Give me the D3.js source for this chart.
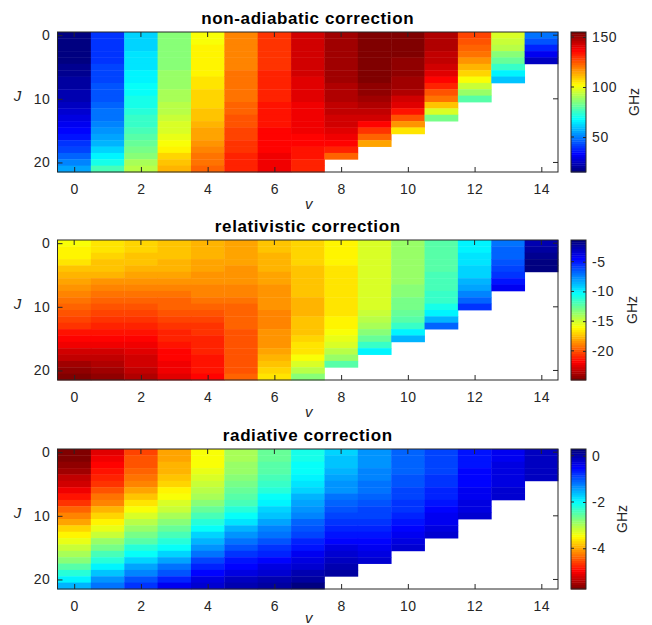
<!DOCTYPE html>
<html>
<head>
<meta charset="utf-8">
<script src="https://cdn.jsdelivr.net/npm/d3@7"></script>
<style>
  body { margin: 0; background: #fff; }
  text { font-family: "Liberation Sans", Arial, Helvetica, sans-serif; fill: #262626; }
</style>
</head>
<body>
<svg id="chart" width="652" height="625"></svg>
<script>
// vibrational levels v = 0..14, each column holds values for J = 0..Jmax(v)
const vLevels = d3.range(0, 15);
const xTicks = [0, 2, 4, 6, 8, 10, 12, 14];
const yTicks = [0, 10, 20];

// non-adiabatic correction, GHz
const nonAdiabatic = [
  [15, 15.3, 15.8, 16.4, 17, 17.7, 18.5, 19.5, 20.5, 21.7, 23, 24.5, 26.2, 28.2, 30.5, 33, 36, 39.5, 43, 47, 51.5, 56],
  [40, 40, 40.2, 40.5, 41, 41.5, 42, 42.8, 43.6, 44.5, 45.5, 46.7, 48, 49.5, 51, 52.5, 54.5, 57.5, 61.5, 66, 71, 78],
  [62, 62.5, 63, 63.5, 64, 65, 66, 67, 68, 69, 70, 71.5, 73, 74.5, 76, 78, 80, 82, 84, 87, 90, 93],
  [85, 85, 85.5, 86, 86.5, 87, 87.5, 88, 89, 90, 91, 92, 93.5, 95, 96.5, 98, 100, 102, 104.5, 107, 110, 113],
  [102, 102, 102.5, 103, 103.5, 104, 104.5, 105, 106, 107, 108, 109, 110, 111, 112, 113.5, 115, 116.5, 118, 120, 122, 124],
  [118, 118, 118, 118.5, 119, 119.5, 120, 120.5, 121, 121.5, 122, 123, 124, 125, 126, 127, 128, 129, 130, 131, 132, 133],
  [129, 129, 129.5, 130, 130, 130.5, 131, 131.5, 132, 132.5, 133, 133.5, 134, 134.5, 135, 135.5, 136, 136.5, 137, 137.5, 138, 139],
  [143, 143, 143, 142.5, 142.5, 142, 142, 141.5, 141, 140.5, 140, 139.5, 139, 138.5, 138, 137.5, 137, 136, 135, 134, 132.5, 131],
  [150, 150, 150, 149.5, 149.5, 149, 149, 148.5, 148, 147.5, 147, 146, 145, 144, 143, 141.5, 139, 136, 131, 124],
  [155, 155, 155, 154.5, 154.5, 154, 153.5, 153, 152, 151, 150, 148, 146, 142, 137, 130, 124, 115],
  [154, 154, 153.5, 153, 152.5, 152, 151, 150, 148.5, 146.5, 144, 140, 134, 126, 117, 105],
  [148, 147.5, 147, 146, 145, 143, 140, 137, 132, 126, 120, 111, 97, 83],
  [127, 126, 124, 121, 117, 113, 108, 102, 95, 89, 79],
  [97, 95.5, 92, 87, 82, 75, 67, 60],
  [48, 45, 38, 31, 25]
];

// relativistic correction, GHz
const relativistic = [
  [-16, -16.1, -16.4, -16.8, -17.2, -17.6, -18, -18.4, -18.8, -19.2, -19.6, -20, -20.4, -20.8, -21.3, -21.8, -22.3, -22.8, -23.3, -23.8, -24.3, -24.9],
  [-16.6, -16.7, -16.9, -17.2, -17.5, -17.9, -18.3, -18.7, -19.1, -19.5, -19.9, -20.3, -20.7, -21.1, -21.5, -21.9, -22.3, -22.7, -23.1, -23.5, -23.9, -24.3],
  [-16.9, -17, -17.2, -17.4, -17.7, -18, -18.4, -18.8, -19.2, -19.6, -20, -20.4, -20.8, -21.2, -21.5, -21.8, -22.1, -22.4, -22.7, -23, -23.3, -23.6],
  [-17.3, -17.4, -17.5, -17.7, -17.9, -18.2, -18.5, -18.8, -19.1, -19.4, -19.7, -20, -20.3, -20.6, -20.9, -21.2, -21.5, -21.7, -21.9, -22.1, -22.3, -22.5],
  [-17.8, -17.8, -17.9, -18, -18.2, -18.4, -18.6, -18.8, -19, -19.3, -19.6, -19.9, -20.2, -20.5, -20.7, -20.9, -21.1, -21.2, -21.3, -21.4, -21.5, -21.6],
  [-18, -18, -18.1, -18.2, -18.3, -18.4, -18.6, -18.8, -19, -19.2, -19.4, -19.5, -19.6, -19.7, -19.8, -19.8, -19.9, -19.9, -19.9, -19.9, -19.8, -19.7],
  [-17.5, -17.5, -17.6, -17.7, -17.8, -18, -18.1, -18.3, -18.4, -18.5, -18.6, -18.7, -18.7, -18.7, -18.6, -18.5, -18.3, -18.1, -17.8, -17.5, -17.1, -16.6],
  [-16.9, -16.9, -17, -17.1, -17.2, -17.3, -17.4, -17.5, -17.5, -17.6, -17.6, -17.6, -17.5, -17.4, -17.2, -17, -16.8, -16.5, -16, -15.2, -14.3, -13.2],
  [-16.3, -16.3, -16.4, -16.4, -16.5, -16.5, -16.6, -16.6, -16.6, -16.6, -16.6, -16.5, -16.4, -16.2, -16, -15.6, -15.1, -14.4, -13.5, -12.2],
  [-15.3, -15.3, -15.3, -15.3, -15.3, -15.3, -15.3, -15.3, -15.2, -15.1, -15, -14.8, -14.5, -14, -13.4, -12.6, -11.5, -10],
  [-13.7, -13.7, -13.7, -13.7, -13.6, -13.6, -13.5, -13.4, -13.3, -13.1, -12.9, -12.6, -12.1, -11.3, -10.1, -8.7],
  [-12.2, -12.2, -12.2, -12.1, -12.1, -12, -11.9, -11.8, -11.6, -11.3, -10.8, -10, -8.6, -6.6],
  [-10, -9.9, -9.8, -9.6, -9.4, -9.1, -8.7, -8.2, -7.4, -6.6, -5.4],
  [-6.9, -6.8, -6.6, -6.3, -5.9, -5.4, -4.7, -4],
  [-2.5, -2.3, -2, -1.7, -1.35]
];

// radiative correction, GHz
const radiative = [
  [-5.76, -5.7, -5.6, -5.5, -5.38, -5.24, -5.06, -4.86, -4.64, -4.42, -4.2, -3.98, -3.76, -3.55, -3.34, -3.14, -2.94, -2.74, -2.52, -2.2, -1.9, -1.55],
  [-5.15, -5.08, -5, -4.9, -4.78, -4.64, -4.5, -4.34, -4.16, -3.96, -3.76, -3.55, -3.34, -3.12, -2.9, -2.67, -2.43, -2.18, -1.92, -1.66, -1.4, -1.15],
  [-4.55, -4.52, -4.46, -4.38, -4.28, -4.16, -4.02, -3.86, -3.68, -3.48, -3.3, -3.1, -2.92, -2.72, -2.5, -2.24, -1.98, -1.73, -1.48, -1.24, -1, -0.77],
  [-4.02, -3.99, -3.95, -3.88, -3.8, -3.7, -3.58, -3.44, -3.28, -3.12, -2.95, -2.78, -2.6, -2.42, -2.22, -1.98, -1.72, -1.46, -1.2, -0.94, -0.66, -0.39],
  [-3.49, -3.47, -3.43, -3.38, -3.3, -3.2, -3.08, -2.95, -2.8, -2.62, -2.42, -2.2, -1.98, -1.76, -1.56, -1.36, -1.15, -0.93, -0.7, -0.5, -0.34, -0.24],
  [-2.96, -2.94, -2.9, -2.85, -2.79, -2.72, -2.63, -2.52, -2.4, -2.2, -2, -1.8, -1.6, -1.41, -1.22, -1.03, -0.84, -0.65, -0.47, -0.32, -0.18, -0.08],
  [-2.58, -2.56, -2.52, -2.46, -2.38, -2.28, -2.17, -2.04, -1.9, -1.76, -1.62, -1.46, -1.3, -1.14, -0.98, -0.82, -0.66, -0.5, -0.34, -0.19, -0.05, 0.1],
  [-2.13, -2.1, -2.05, -1.98, -1.9, -1.8, -1.7, -1.6, -1.48, -1.36, -1.24, -1.11, -0.98, -0.85, -0.72, -0.59, -0.46, -0.33, -0.2, -0.06, 0.1, 0.29],
  [-1.7, -1.67, -1.62, -1.56, -1.49, -1.41, -1.32, -1.22, -1.12, -1.02, -0.92, -0.81, -0.7, -0.59, -0.48, -0.37, -0.26, -0.15, -0.03, 0.09],
  [-1.37, -1.35, -1.32, -1.28, -1.24, -1.19, -1.13, -1.07, -1, -0.93, -0.86, -0.78, -0.7, -0.62, -0.55, -0.44, -0.32, -0.2],
  [-1.12, -1.1, -1.08, -1.05, -1.01, -0.97, -0.92, -0.87, -0.81, -0.75, -0.69, -0.62, -0.54, -0.45, -0.35, -0.24],
  [-0.92, -0.9, -0.88, -0.85, -0.81, -0.77, -0.72, -0.66, -0.6, -0.53, -0.46, -0.38, -0.3, -0.21],
  [-0.62, -0.61, -0.59, -0.56, -0.52, -0.48, -0.44, -0.39, -0.34, -0.29, -0.24],
  [-0.4, -0.39, -0.37, -0.35, -0.32, -0.29, -0.26, -0.23],
  [-0.14, -0.13, -0.12, -0.11, -0.1]
];

const cbTicksNA = [50, 100, 150];
const cbTicksRel = [-20, -15, -10, -5];
const cbTicksRad = [-4, -2, 0];

// matlab-ish jet colormap, 64 levels
const jet = d3.scaleLinear()
  .domain([0, 0.125, 0.375, 0.625, 0.875, 1])
  .range(["#000080", "#0000ff", "#00ffff", "#ffff00", "#ff0000", "#800000"]);
const nLevels = 64;
function jetLevel(t) {
  const i = Math.max(0, Math.min(nLevels - 1, Math.floor(t * nLevels)));
  return jet(i / (nLevels - 1));
}

const panels = [
  { title: "non-adiabatic correction", data: nonAdiabatic, cbTicks: cbTicksNA, reverse: false, top: 32, labelX: 634 },
  { title: "relativistic correction", data: relativistic, cbTicks: cbTicksRel, reverse: true, top: 240, labelX: 632 },
  { title: "radiative correction", data: radiative, cbTicks: cbTicksRad, reverse: true, top: 449, labelX: 622 }
];

const svg = d3.select("#chart");
const axLeft = 57.5, axRight = 558, axH = 140;
const cbLeft = 571, cbW = 15;
const axisColor = "#262626";
const tickFont = 14, tickSpacing = 0.6;

panels.forEach(p => {
  const g = svg.append("g");
  const x = d3.scaleLinear().domain([-0.5, 14.5]).range([axLeft, axRight]);
  const y = d3.scaleLinear().domain([-0.5, 21.5]).range([p.top, p.top + axH]);

  const ext = d3.extent(p.data.flat());
  const norm = d3.scaleLinear().domain(ext).range(p.reverse ? [1, 0] : [0, 1]);

  // cells
  const cells = [];
  p.data.forEach((col, vi) => col.forEach((val, j) => cells.push({ v: vLevels[vi], j, val })));

  g.selectAll("rect.cell")
    .data(cells)
    .enter()
    .append("rect")
    .attr("class", "cell")
    .attr("x", d => x(d.v - 0.5))
    .attr("y", d => y(d.j - 0.5))
    .attr("width", d => x(d.v + 0.5) - x(d.v - 0.5) + 0.4)
    .attr("height", d => y(d.j + 0.5) - y(d.j - 0.5) + 0.4)
    .attr("fill", d => jetLevel(norm(d.val)));

  // bottom axis, ticks pointing in
  const xAxis = g.append("g")
    .attr("transform", `translate(0,${p.top + axH})`)
    .call(d3.axisBottom(x).tickValues(xTicks).tickSizeInner(-5).tickSizeOuter(0).tickPadding(12));
  xAxis.select(".domain").remove();
  xAxis.selectAll("line").attr("stroke", axisColor);
  xAxis.selectAll("text").attr("font-size", tickFont).attr("letter-spacing", tickSpacing).style("fill", axisColor);

  const yAxis = g.append("g")
    .attr("transform", `translate(${axLeft},0)`)
    .call(d3.axisLeft(y).tickValues(yTicks).tickSizeInner(-5).tickSizeOuter(0).tickPadding(7));
  yAxis.select(".domain").remove();
  yAxis.selectAll("line").attr("stroke", axisColor);
  yAxis.selectAll("text").attr("font-size", tickFont).attr("letter-spacing", tickSpacing).style("fill", axisColor);

  // mirrored ticks on top and right
  g.selectAll("line.topTick").data(xTicks).enter().append("line")
    .attr("x1", d => x(d)).attr("x2", d => x(d))
    .attr("y1", p.top).attr("y2", p.top + 5)
    .attr("stroke", axisColor);
  g.selectAll("line.rightTick").data(yTicks).enter().append("line")
    .attr("x1", axRight).attr("x2", axRight - 5)
    .attr("y1", d => y(d)).attr("y2", d => y(d))
    .attr("stroke", axisColor);

  g.append("rect")
    .attr("x", axLeft).attr("y", p.top)
    .attr("width", axRight - axLeft).attr("height", axH)
    .attr("fill", "none").attr("stroke", axisColor).attr("stroke-width", 1);

  // title and axis labels
  g.append("text")
    .attr("x", (axLeft + axRight) / 2).attr("y", p.top - 8)
    .attr("text-anchor", "middle")
    .attr("font-size", 17).attr("font-weight", "bold")
    .attr("letter-spacing", 0.6)
    .style("fill", "#000")
    .text(p.title);

  g.append("text")
    .attr("x", 17.5).attr("y", p.top + 69)
    .attr("text-anchor", "middle")
    .attr("font-size", 15).attr("font-style", "italic")
    .text("J");

  g.append("text")
    .attr("x", (axLeft + axRight) / 2 + 1).attr("y", Math.min(p.top + axH + 37, 623))
    .attr("text-anchor", "middle")
    .attr("font-size", 15).attr("font-style", "italic")
    .text("v");

  // colorbar
  const cy = d3.scaleLinear().domain(ext).range([p.top + axH, p.top]);
  const bandH = axH / nLevels;
  g.selectAll("rect.band")
    .data(d3.range(nLevels))
    .enter()
    .append("rect")
    .attr("x", cbLeft)
    .attr("y", i => p.top + axH - (i + 1) * bandH)
    .attr("width", cbW)
    .attr("height", bandH + 0.4)
    .attr("fill", i => jet((p.reverse ? nLevels - 1 - i : i) / (nLevels - 1)));

  const cAxis = g.append("g")
    .attr("transform", `translate(${cbLeft + cbW},0)`)
    .call(d3.axisRight(cy).tickValues(p.cbTicks).tickSizeInner(-3).tickSizeOuter(0).tickPadding(6));
  cAxis.select(".domain").remove();
  cAxis.selectAll("line").attr("stroke", axisColor);
  cAxis.selectAll("text").attr("font-size", tickFont).attr("letter-spacing", tickSpacing).style("fill", axisColor)
    .text(d => String(d));

  g.selectAll("line.cbLeftTick").data(p.cbTicks).enter().append("line")
    .attr("x1", cbLeft).attr("x2", cbLeft + 3)
    .attr("y1", d => cy(d)).attr("y2", d => cy(d))
    .attr("stroke", axisColor);

  g.append("rect")
    .attr("x", cbLeft).attr("y", p.top)
    .attr("width", cbW).attr("height", axH)
    .attr("fill", "none").attr("stroke", axisColor).attr("stroke-width", 1);

  g.append("text")
    .attr("transform", `translate(${p.labelX},${p.top + axH / 2}) rotate(-90)`)
    .attr("text-anchor", "middle")
    .attr("dy", "0.35em")
    .attr("font-size", 14)
    .text("GHz");
});
</script>
</body>
</html>
